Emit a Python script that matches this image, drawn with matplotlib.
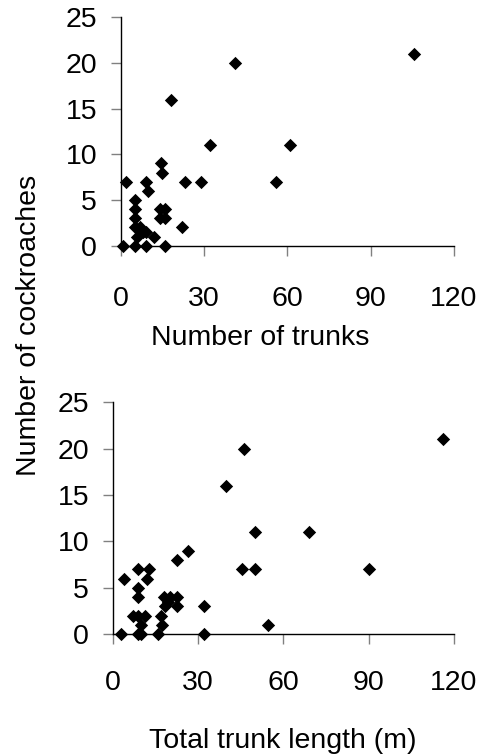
import matplotlib
matplotlib.use('Agg')
import matplotlib.pyplot as plt

plt.rcParams['font.family'] = ['Liberation Sans', 'DejaVu Sans']

# valores
trunks_n = [105.6, 41, 18, 32, 61, 56, 29, 23, 2, 9, 10, 14.5, 15, 5, 5, 5,
            14, 16, 14, 16, 22, 5, 7, 8, 6, 12, 9, 1, 5, 9, 16]
roaches_n = [21, 20, 16, 11, 11, 7, 7, 7, 7, 7, 6, 9, 8, 5, 4, 3,
             4, 4, 3, 3, 2, 2, 2, 1.5, 1, 1, 1.5, 0, 0, 0, 0]

length_m = [116, 46, 40, 50, 69, 90, 45.5, 50, 26.6, 22.5, 4, 9, 12.7, 12, 9, 9,
            32, 32, 54.5, 3, 9, 10, 16, 7, 9, 11.5, 10, 17, 17.5, 18, 20, 22.5,
            18.5, 22.5, 19.5]
roaches_l = [21, 20, 16, 11, 11, 7, 7, 7, 9, 8, 6, 7, 7, 6, 5, 4,
             3, 0, 1, 0, 0, 0, 0, 2, 2, 2, 1, 2, 1, 4, 4, 4,
             3, 3, 3.5]

xticks = [0, 30, 60, 90, 120]
yticks = [0, 5, 10, 15, 20, 25]

FS = 20.5

fig = plt.figure(figsize=(4.84, 7.56), dpi=100)
axTop = fig.add_axes([0.2494, 0.675, 0.6887, 0.3021])
axBot = fig.add_axes([0.2329, 0.161, 0.7052, 0.3069])


def arrumar(ax, xpad):
    ax.set_xlim(0, 120)
    ax.set_ylim(0, 25)
    ax.set_xticks(xticks)
    ax.set_yticks(yticks)
    ax.spines['top'].set_visible(False)
    ax.spines['right'].set_visible(False)
    for s in ['left', 'bottom']:
        ax.spines[s].set_color('black')
        ax.spines[s].set_linewidth(1)
    ax.tick_params(axis='both', direction='out', length=7, width=1,
                   color='#808080', labelsize=FS)
    ax.tick_params(axis='x', pad=xpad)
    ax.tick_params(axis='y', pad=10)


axTop.scatter(trunks_n, roaches_n, marker='D', s=46, color='black',
              linewidths=0, clip_on=False, zorder=3)
arrumar(axTop, 22)
axTop.set_xlabel('Number of trunks', fontsize=FS)
axTop.xaxis.set_label_coords(0.417, -0.404)
axTop.xaxis.label.set_va('center')

axBot.scatter(length_m, roaches_l, marker='D', s=46, color='black',
              linewidths=0, clip_on=False, zorder=3)
arrumar(axBot, 18.5)
axBot.set_xlabel('Total trunk length (m)', fontsize=FS)
axBot.xaxis.set_label_coords(0.499, -0.46)
axBot.xaxis.label.set_va('center')

fig.text(29 / 484, 1 - 325 / 756, 'Number of cockroaches', rotation=90,
         fontsize=FS, ha='center', va='center')

fig.savefig('out.png', dpi=100)
